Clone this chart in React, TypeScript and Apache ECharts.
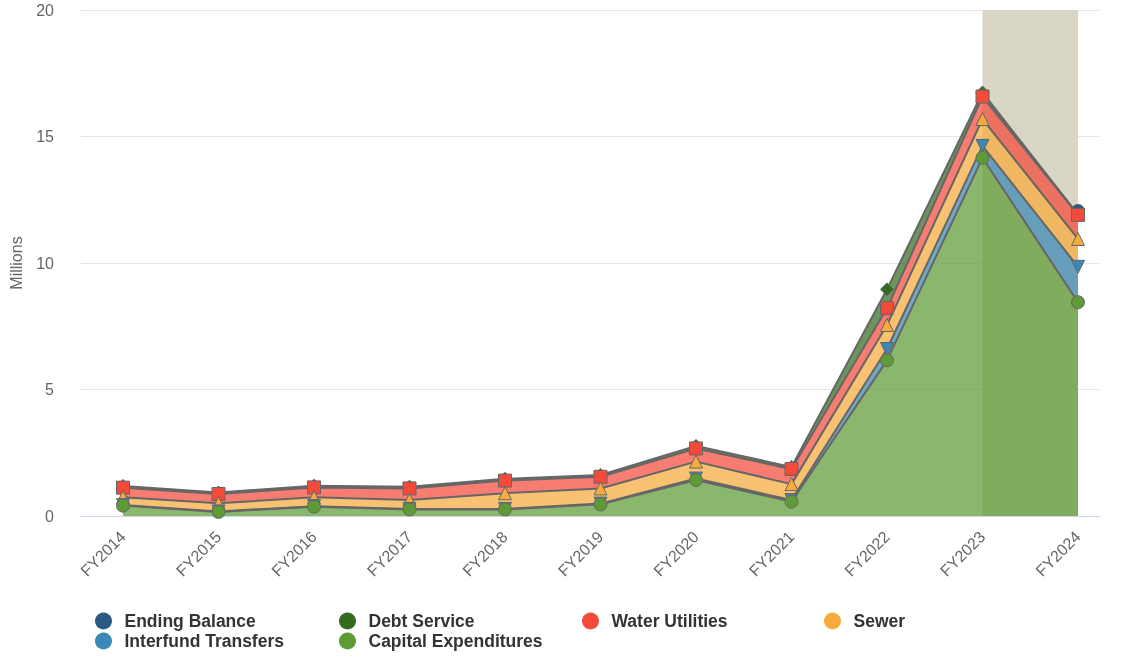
import React, { useEffect, useRef } from "react";
import * as echarts from "echarts";

const categories = ["FY2014", "FY2015", "FY2016", "FY2017", "FY2018", "FY2019", "FY2020", "FY2021", "FY2022", "FY2023", "FY2024"];
const endingBalance = [null, null, null, null, null, null, null, null, null, null, 0.14];
const debtService = [0.07, 0.06, 0.07, 0.07, 0.07, 0.07, 0.1, 0.08, 0.75, 0.16, 0.02];
const waterUtilities = [0.38, 0.37, 0.39, 0.46, 0.5, 0.46, 0.52, 0.6, 0.66, 0.89, 0.95];
const sewer = [0.31, 0.32, 0.35, 0.35, 0.62, 0.6, 0.67, 0.63, 0.95, 1.06, 1.1];
const interfundTransfers = [0.02, 0.02, 0.02, 0.02, 0.02, 0.03, 0.06, 0.06, 0.45, 0.47, 1.4];
const capitalExpenditures = [0.41, 0.16, 0.37, 0.26, 0.26, 0.46, 1.42, 0.57, 6.15, 14.16, 8.45];
const highlightRange = ["FY2023", "FY2024"];
const yTicks = { min: 0, max: 20, interval: 5 };

const FONT = "'Liberation Sans', Arial, Helvetica, sans-serif";

type S = { name: string; data: (number | null)[]; color: string; symbol: string; size: number; rotate?: number; z: number };

const seriesDefs: S[] = [
  { name: "Capital Expenditures", data: capitalExpenditures, color: "#5e9a35", symbol: "circle", size: 13, z: 8 },
  { name: "Interfund Transfers", data: interfundTransfers, color: "#3a88b7", symbol: "triangle", size: 13, rotate: 180, z: 7 },
  { name: "Sewer", data: sewer, color: "#f6ab3c", symbol: "triangle", size: 13, z: 6 },
  { name: "Water Utilities", data: waterUtilities, color: "#f44a3a", symbol: "rect", size: 13, z: 5 },
  { name: "Debt Service", data: debtService, color: "#336b1f", symbol: "diamond", size: 13, z: 4 },
  { name: "Ending Balance", data: endingBalance, color: "#2b5a85", symbol: "circle", size: 13, z: 3 },
];

const legendOrder = ["Ending Balance", "Debt Service", "Water Utilities", "Sewer", "Interfund Transfers", "Capital Expenditures"];
const legendPos = [
  [95, 612], [339, 612], [582, 612], [824, 612],
  [95, 632], [339, 632],
];

export default function App() {
  const ref = useRef<HTMLDivElement>(null);
  useEffect(() => {
    if (!ref.current) return;
    const chart = echarts.init(ref.current, null, { renderer: "svg" });
    const colorOf = (n: string) => seriesDefs.find((s) => s.name === n)!.color;
    const option: any = {
      animation: false,
      textStyle: { fontFamily: FONT },
      grid: [
        { left: 77, right: 27, top: 10, bottom: 140 },
        { left: 123, right: 49, top: 10, bottom: 140 },
      ],
      xAxis: [
        {
          gridIndex: 0, type: "value", min: 0, max: 1,
          axisLine: { show: true, lineStyle: { color: "#ccd6eb", width: 1 } },
          axisTick: { show: false }, axisLabel: { show: false }, splitLine: { show: false },
        },
        {
          gridIndex: 1, type: "category", data: categories, boundaryGap: false,
          axisLine: { show: false }, axisTick: { show: false }, splitLine: { show: false },
          axisLabel: { interval: 0, rotate: 45, color: "#666666", fontSize: 16, margin: 18, fontFamily: FONT },
        },
      ],
      yAxis: [
        {
          gridIndex: 0, type: "value", min: yTicks.min, max: yTicks.max, interval: yTicks.interval,
          axisLine: { show: false }, axisTick: { show: false },
          axisLabel: { color: "#666666", fontSize: 16, margin: 27, fontFamily: FONT },
          splitLine: { lineStyle: { color: "#e6e6e6", width: 1 } },
          name: "Millions", nameLocation: "middle", nameGap: 57,
          nameTextStyle: { color: "#666666", fontSize: 16, fontFamily: FONT },
        },
        {
          gridIndex: 1, type: "value", min: yTicks.min, max: yTicks.max, interval: yTicks.interval, show: false,
          splitLine: { show: false },
        },
      ],
      legend: legendOrder.map((name, i) => ({
        data: [{ name, icon: "circle", itemStyle: { color: colorOf(name), borderWidth: 0 } }],
        left: legendPos[i][0], top: legendPos[i][1],
        itemWidth: 32, itemHeight: 17, padding: 0,
        textStyle: { color: "#333333", fontSize: 17.5, fontWeight: "bold", fontFamily: FONT },
      })),
      series: [
        {
          name: "__band", type: "line", xAxisIndex: 1, yAxisIndex: 1, z: 1,
          data: categories.map(() => null), symbol: "none", silent: true,
          markArea: {
            silent: true,
            itemStyle: { color: "#d9d6c6", opacity: 1 },
            data: [[{ xAxis: highlightRange[0] }, { xAxis: highlightRange[1] }]],
          },
        },
        ...seriesDefs.map((s) => ({
          name: s.name, type: "line", stack: "total", xAxisIndex: 1, yAxisIndex: 1, z: s.z,
          data: s.data, symbol: s.symbol, symbolSize: s.size, symbolRotate: s.rotate || 0, showSymbol: true,
          showAllSymbol: true,
          lineStyle: { color: "#666666", width: 2 },
          itemStyle: { color: s.color, borderColor: "#666666", borderWidth: 1 },
          areaStyle: { color: s.color, opacity: 0.72 },
        })),
      ],
    };
    chart.setOption(option);
    return () => chart.dispose();
  }, []);
  return <div ref={ref} style={{ position: "fixed", left: 0, top: 0, width: 1127, height: 656 }} />;
}
